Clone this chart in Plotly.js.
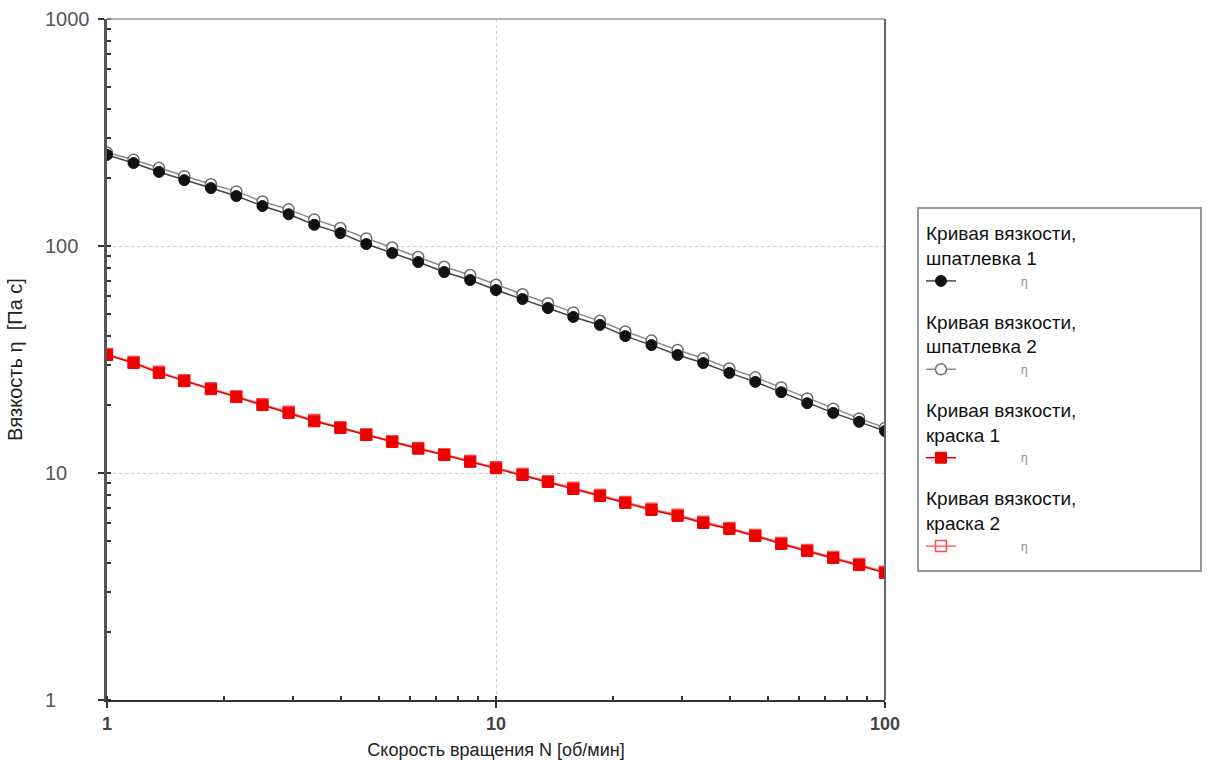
<!DOCTYPE html>
<html>
<head>
<meta charset="utf-8">
<script src="https://cdn.plot.ly/plotly-3.0.1.min.js"></script>
<style>
  html, body { margin: 0; padding: 0; background: #fff; }
  #chart { width: 1209px; height: 760px; }
</style>
</head>
<body>
<div id="chart"></div>
<script>
// Rotation speed N [rpm]
const speedN = [1, 1.17, 1.36, 1.58, 1.85, 2.15, 2.51, 2.93, 3.41, 3.98, 4.64, 5.41, 6.31, 7.36, 8.58,
                10, 11.7, 13.6, 15.8, 18.5, 21.5, 25.1, 29.3, 34.1, 39.8, 46.4, 54.1, 63.1, 73.6, 85.8, 100];

// Viscosity η [Pa s]
const putty1 = [252, 232, 212, 195, 180, 166, 150, 138, 124, 114, 102, 93.1, 85.0, 76.8, 70.8,
                64.0, 58.4, 53.3, 48.7, 44.9, 40.1, 36.6, 33.1, 30.5, 27.6, 25.2, 22.7, 20.3, 18.4, 16.8, 15.3];
const putty2 = [258, 240, 221, 203, 187, 174, 157, 145, 131, 120, 108, 98.5, 89.5, 81.0, 74.5,
                67.5, 61.3, 56.0, 51.0, 46.8, 42.0, 38.3, 34.8, 32.0, 28.9, 26.4, 23.8, 21.3, 19.2, 17.4, 15.8];
const paint1  = [33.1, 30.5, 27.6, 25.4, 23.4, 21.6, 19.9, 18.4, 16.9, 15.8, 14.7, 13.7, 12.8, 12.0, 11.2,
                10.5, 9.80, 9.13, 8.50, 7.92, 7.38, 6.87, 6.47, 6.02, 5.67, 5.28, 4.87, 4.53, 4.22, 3.93, 3.63];
const paint2  = [33.4, 30.8, 27.9, 25.6, 23.6, 21.8, 20.1, 18.6, 17.1, 15.9, 14.8, 13.8, 12.9, 12.1, 11.3,
                10.6, 9.90, 9.20, 8.60, 8.00, 7.45, 6.95, 6.55, 6.10, 5.72, 5.33, 4.92, 4.58, 4.26, 3.97, 3.67];

const seriesTitles = ["Кривая вязкости,<br>шпатлевка 1", "Кривая вязкости,<br>шпатлевка 2",
                      "Кривая вязкости,<br>краска 1", "Кривая вязкости,<br>краска 2"];
const itemLabel = "η";

const yTickVals = [1, 10, 100, 1000];
const yTickText = ["1", "10", "100", "1000"];
const xTickVals = [1, 10, 100];
const xTickText = ["1", "10", "100"];

const FONT = "Liberation Sans, Arial, sans-serif";
const gtFont = {family: FONT, size: 19, color: "#111"};
const pad = "&nbsp;".repeat(18);

function mk(name, y, rank, line, marker) {
  return {
    x: speedN, y: y, type: "scatter", mode: "lines+markers",
    name: pad + itemLabel, legendgroup: "g" + rank, legendrank: rank,
    legendgrouptitle: {text: name, font: gtFont},
    line: line, marker: marker,
    hovertemplate: name.replace("<br>", " ") + "<br>N=%{x}<br>η=%{y}<extra></extra>"
  };
}

const data = [
  mk(seriesTitles[1], putty2, 2, {color: "#8a8a8a", width: 1.5},
     {symbol: "circle", size: 11, color: "#ffffff", line: {color: "#6e6e6e", width: 1.5}}),
  mk(seriesTitles[0], putty1, 1, {color: "#444444", width: 1.5},
     {symbol: "circle", size: 11, color: "#111111", line: {color: "#111111", width: 1}}),
  mk(seriesTitles[3], paint2, 4, {color: "#ff6666", width: 1.5},
     {symbol: "square-open", size: 11, color: "#ff4d4d", line: {width: 1.5}}),
  mk(seriesTitles[2], paint1, 3, {color: "#e60000", width: 1.5},
     {symbol: "square", size: 11, color: "#ee0000", line: {color: "#ee0000", width: 1}})
];

const L = 107, R = 885, T = 19, B = 700;
const pw = R - L, ph = B - T;
const px = v => (v - L) / pw;
const py = v => (B - v) / ph;

const annotations = yTickVals.map((v, i) => ({
  xref: "paper", yref: "y", x: px(43), y: Math.log10(v),
  xanchor: "left", yanchor: "middle", showarrow: false,
  text: yTickText[i], font: {family: FONT, size: 20, color: "#555"}
}));

const layout = {
  width: 1209, height: 760,
  margin: {l: L, r: 1209 - R, t: T, b: 760 - B},
  paper_bgcolor: "#ffffff", plot_bgcolor: "#ffffff",
  font: {family: FONT, color: "#222"},
  showlegend: true,
  legend: {
    x: px(921), y: py(214), xanchor: "left", yanchor: "top",
    bgcolor: "rgba(0,0,0,0)", borderwidth: 0,
    traceorder: "grouped", tracegroupgap: 17, itemwidth: 30,
    font: {family: FONT, size: 12, color: "#888"}
  },
  xaxis: {
    type: "log", range: [0, 2],
    tickvals: xTickVals, ticktext: xTickText,
    ticks: "outside", ticklen: 6, tickwidth: 1.5, tickcolor: "#333",
    tickfont: {family: FONT, size: 18, color: "#444", weight: "bold"},
    showline: true, linecolor: "#333", linewidth: 2,
    showgrid: true, gridcolor: "#cccccc", griddash: "dot", gridwidth: 1,
    minor: {dtick: "D1", ticks: "inside", ticklen: 4, tickwidth: 1.5, tickcolor: "#333", showgrid: false},
    zeroline: false,
    title: {text: "Скорость вращения N [об/мин]", font: {family: FONT, size: 18, color: "#222"}, standoff: 12}
  },
  yaxis: {
    type: "log", range: [0, 3],
    tickvals: yTickVals, ticktext: yTickText, showticklabels: false,
    ticks: "outside", ticklen: 6, tickwidth: 1.5, tickcolor: "#333",
    showline: true, linecolor: "#555", linewidth: 3,
    showgrid: true, gridcolor: "#cccccc", griddash: "dot", gridwidth: 1,
    minor: {dtick: "D1", ticks: "inside", ticklen: 4, tickwidth: 1.5, tickcolor: "#333", showgrid: false},
    zeroline: false,
    title: {text: "Вязкость η  [Па с]", font: {family: FONT, size: 20, color: "#222"}, standoff: 71}
  },
  annotations: annotations,
  shapes: [
    {type: "line", xref: "paper", yref: "paper", x0: 0, x1: 1, y0: 1, y1: 1, line: {color: "#999", width: 1.5}},
    {type: "line", xref: "paper", yref: "paper", x0: 1, x1: 1, y0: 0, y1: 1, line: {color: "#666", width: 2}},
    {type: "rect", xref: "paper", yref: "paper", x0: px(918), x1: px(1201), y0: py(571), y1: py(208),
     line: {color: "#999", width: 2}, fillcolor: "rgba(0,0,0,0)"}
  ]
};

Plotly.newPlot("chart", data, layout, {displayModeBar: false});
</script>
</body>
</html>
